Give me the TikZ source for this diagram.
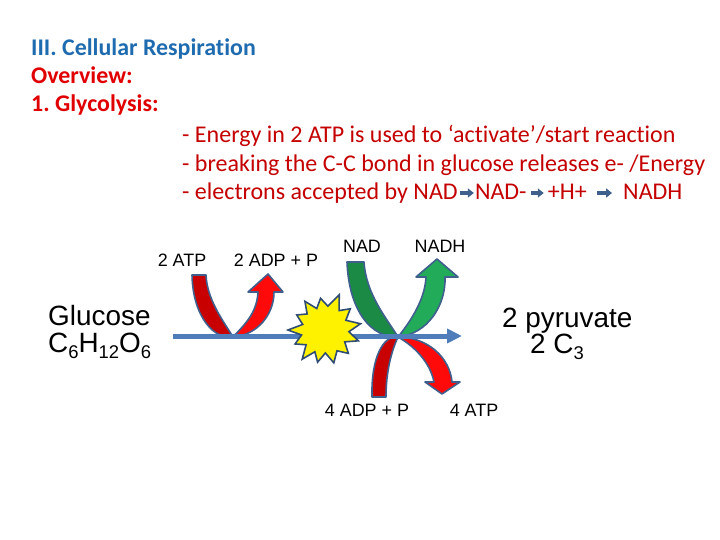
\documentclass[tikz,border=0pt]{standalone}
\usepackage{fontspec}
\setmainfont{Carlito}[Ligatures={NoCommon}]
\newfontfamily\labelfont{Liberation Sans}
\usepackage{tikz}
\usetikzlibrary{arrows.meta,calc,positioning}
\definecolor{headblue}{HTML}{1F6BB0}
\definecolor{headred}{HTML}{E00000}
\definecolor{notered}{HTML}{C40000}
\definecolor{edgeblue}{HTML}{3F5F8C}
\definecolor{flowblue}{HTML}{4F7DBA}
\definecolor{darkred}{HTML}{C80000}
\definecolor{brightred}{HTML}{FF0A0A}
\definecolor{darkgreen}{HTML}{1B8A45}
\definecolor{lightgreen}{HTML}{22AC5A}
\definecolor{burstline}{HTML}{2F4D74}
\newcommand\lowsub[1]{\raisebox{-0.24em}{\fontsize{18.5}{19}\selectfont #1}}
\frenchspacing

\begin{document}
\begin{tikzpicture}[x=1bp,y=-1bp,
		head/.style={anchor=base west, inner sep=0pt, font=\fontsize{24}{28}\selectfont\bfseries},
		note/.style={anchor=base west, inner sep=0pt, text=notered, font=\fontsize{24.1}{28}\selectfont},
		chem/.style={anchor=base, inner sep=0pt, font=\labelfont\fontsize{18}{21}\selectfont},
		big/.style={anchor=base west, inner sep=0pt, font=\labelfont\fontsize{28}{32}\selectfont},
		band/.style={draw=edgeblue, line width=1.6bp, line join=round},
		textarrow/.style={draw=edgeblue, line width=3.5bp, -{Triangle[length=6bp,width=9bp]}},
		flow/.style={draw=flowblue, line width=5bp, -{Triangle[length=15bp,width=14bp]}},
		burst/.style={draw=burstline, fill=yellow, line width=1.6bp, line join=miter}
		]
	\useasboundingbox (0,0) rectangle (720,540);

	% --- titre ---
	\node[head, text=headblue] (title) at (31,56) {III. Cellular Respiration};
	\node[head, text=headred] (over) at (31,84) {Overview:};
	\node[head, text=headred] (glyc) at (31,112) {1. Glycolysis:};

	% --- notes ---
	\node[note] (n1) at (182,143) {- Energy in 2 ATP is used to ‘activate’/start reaction};
	\node[note] (n2) at (182,172) {- breaking the C-C bond in glucose releases e- /Energy};
	\node[note] (n3) at (182,200) {- electrons accepted by NAD};
	\node[note, base right=17bp of n3] (n3b) {NAD-};
	\node[note, base right=21bp of n3b] (n3c) {+H+};
	\node[note, base right=36bp of n3c] (n3d) {NADH};

	\draw[textarrow] ([xshift=2bp,yshift=7bp]n3.base east) -- ([xshift=-1bp,yshift=7bp]n3b.base west);
	\draw[textarrow] ([xshift=4bp,yshift=7bp]n3b.base east) -- ([xshift=-4bp,yshift=7bp]n3c.base west);
	\draw[textarrow] ([xshift=10bp,yshift=7bp]n3c.base east) -- ([xshift=-11bp,yshift=7bp]n3d.base west);

	% --- molecules ---
	\node[big] (glucose) at (48,325) {Glucose};
	\node[big] (formula) at (48,352) {C\lowsub{6}H\lowsub{12}O\lowsub{6}};
	\node[big] (pyr) at (502,327) {2 pyruvate};
	\node[big] (c3) at (530,353) {2 C\lowsub{3}};

	\node[chem] (atp2) at (182,267) {2 ATP};
	\node[chem] (adp2) at (276,267) {2 ADP + P};
	\node[chem] (nad) at (362,253) {NAD};
	\node[chem] (nadh) at (440,253) {NADH};
	\node[chem] (adp4) at (367,416) {4 ADP + P};
	\node[chem] (atp4) at (474,416) {4 ATP};

	\coordinate (touch1) at (233,337);
	\coordinate (touch2) at (398,337);

	% --- 2 ATP -> 2 ADP + P ---
	\filldraw[band, fill=darkred] (192,275) .. controls (193,318) and (215,340) .. (touch1)
		.. controls (224,322) and (207,300) .. (206,275) -- cycle;
	\filldraw[band, fill=brightred] (touch1) .. controls (258,335) and (274,314) .. (274,292)
		-- (283,292) -- (268,274) -- (248,292) -- (258,292)
		.. controls (257,314) and (243,326) .. (touch1) -- cycle;

	% --- NAD -> NADH ---
	\filldraw[band, fill=darkgreen] (347,262) .. controls (349,312) and (372,338) .. (touch2)
		.. controls (388,320) and (366,295) .. (364,262) -- cycle;
	\filldraw[band, fill=lightgreen] (touch2) .. controls (428,334) and (446,305) .. (445,277)
		-- (458,277) -- (437,259) -- (416,277) -- (426,277)
		.. controls (425,300) and (410,322) .. (touch2) -- cycle;

	% --- 4 ADP + P -> 4 ATP ---
	\filldraw[band, fill=darkred] (372,397) .. controls (371,358) and (383,335) .. (touch2)
		.. controls (392,350) and (386,370) .. (386,397) -- cycle;
	\filldraw[band, fill=brightred] (touch2) .. controls (428,337) and (450,358) .. (452,382)
		-- (460,382) -- (442,394) -- (425,382) -- (434,382)
		.. controls (430,362) and (414,346) .. (touch2) -- cycle;

	% --- glucose -> pyruvate ---
	\coordinate (flowstart) at (173,336);
	\coordinate (flowend) at (462,336);
	\draw[flow] (flowstart) -- (flowend);

	% --- energie ---
	\coordinate (spark) at (325,330);
	\filldraw[burst] ([shift={(350:36)}]spark)
		\foreach \a/\r in {4/24,18/35,31/23,45/33,60/24,75/34,89/23,103/33,115/24,128/37,142/24,155/33,168/24,180/37,194/23,208/32,222/24,235/35,249/23,262/32,277/24,292/38,306/24,320/33,335/23} {
			-- ([shift={(\a:\r)}]spark)
		} -- cycle;

\end{tikzpicture}
\end{document}
